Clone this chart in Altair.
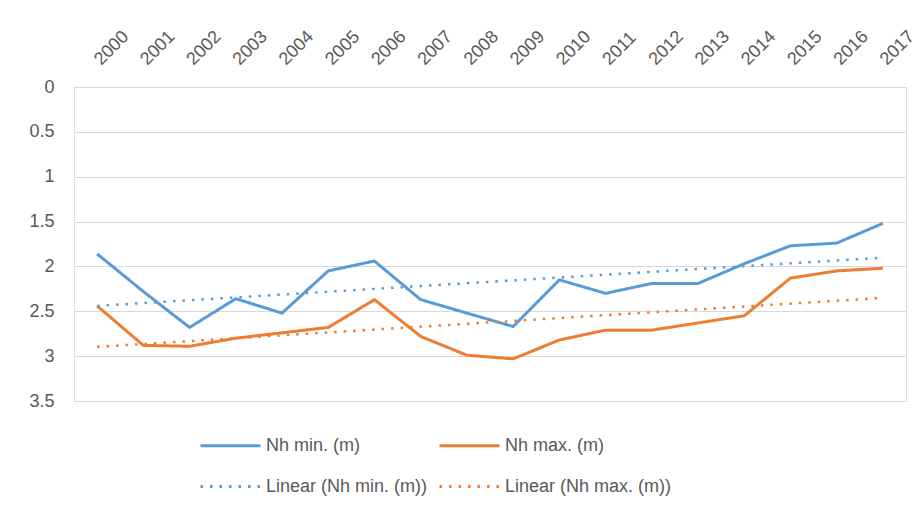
import altair as alt
import pandas as pd

years = list(range(2000, 2018))
nh_min = [1.86, 2.28, 2.68, 2.36, 2.52, 2.05, 1.94, 2.37, 2.52, 2.67,
          2.15, 2.30, 2.19, 2.19, 1.97, 1.77, 1.74, 1.52]
nh_max = [2.44, 2.88, 2.89, 2.80, 2.74, 2.68, 2.37, 2.78, 2.99, 3.03,
          2.82, 2.71, 2.71, 2.63, 2.55, 2.13, 2.05, 2.02]
series_names = ["Nh min. (m)", "Nh max. (m)"]
# column-major legend order: column 1 = min series, column 2 = max series
legend_order = ["Nh min. (m)", "Linear (Nh min. (m))",
                "Nh max. (m)", "Linear (Nh max. (m))"]
y_ticks = [0, 0.5, 1, 1.5, 2, 2.5, 3, 3.5]

rows = []
for name, vals in zip(series_names, [nh_min, nh_max]):
    for yr, v in zip(years, vals):
        rows.append({"year": yr, "value": v, "series": name})
df = pd.DataFrame(rows)

BLUE = "#5B9BD5"
ORANGE = "#ED7D31"
TEXT = "#595959"
FONT = "Liberation Sans"

color = alt.Color("series:N", title=None,
                  scale=alt.Scale(domain=legend_order,
                                  range=[BLUE, BLUE, ORANGE, ORANGE]),
                  legend=alt.Legend(orient="none", legendX=125, legendY=327,
                                    columns=2, symbolType="stroke",
                                    symbolSize=3600, symbolStrokeWidth=3,
                                    labelFontSize=18, labelColor=TEXT,
                                    labelFont=FONT, labelOffset=4,
                                    columnPadding=5, rowPadding=-10,
                                    padding=0, labelLimit=300))
dash = alt.StrokeDash("series:N", title=None,
                      scale=alt.Scale(domain=legend_order,
                                      range=[[1, 0], [2.5, 7], [1, 0], [2.5, 7]]))

x = alt.X("year:Q",
          scale=alt.Scale(domain=[1999.5, 2017.5], nice=False, zero=False),
          axis=alt.Axis(orient="top", values=years, format="d",
                        labelAngle=-45, labelAlign="left",
                        labelBaseline="middle", labelPadding=25,
                        labelFontSize=18, labelColor=TEXT, labelFont=FONT,
                        labelOverlap=False, labelFlush=False, labelBound=False,
                        domain=False, ticks=False, grid=False, title=None))
y = alt.Y("value:Q",
          scale=alt.Scale(domain=[0, 3.5], reverse=True, nice=False, zero=False),
          axis=alt.Axis(values=y_ticks, format="~g", domain=False, ticks=False,
                        gridColor="#D9D9D9", gridWidth=1, labelPadding=20,
                        labelFontSize=18, labelColor=TEXT, labelFont=FONT,
                        title=None))

lines = alt.Chart(df).mark_line(strokeWidth=3).encode(
    x=x, y=y, color=color, strokeDash=dash)

trend = alt.Chart(df).transform_regression(
    "year", "value", groupby=["series"], extent=[2000, 2017]
).transform_calculate(
    series="'Linear (' + datum.series + ')'"
).mark_line(strokeWidth=2.5).encode(
    x=x, y=y, color=color, strokeDash=dash)

chart = alt.layer(lines, trend).properties(
    width=832, height=314,
    autosize=alt.AutoSizeParams(type="none"),
    padding={"left": 66, "top": 79, "right": 6, "bottom": 100},
).configure_view(stroke=None).configure(background="white")

chart.save("out.html", embed_options={"renderer": "svg", "actions": False})
